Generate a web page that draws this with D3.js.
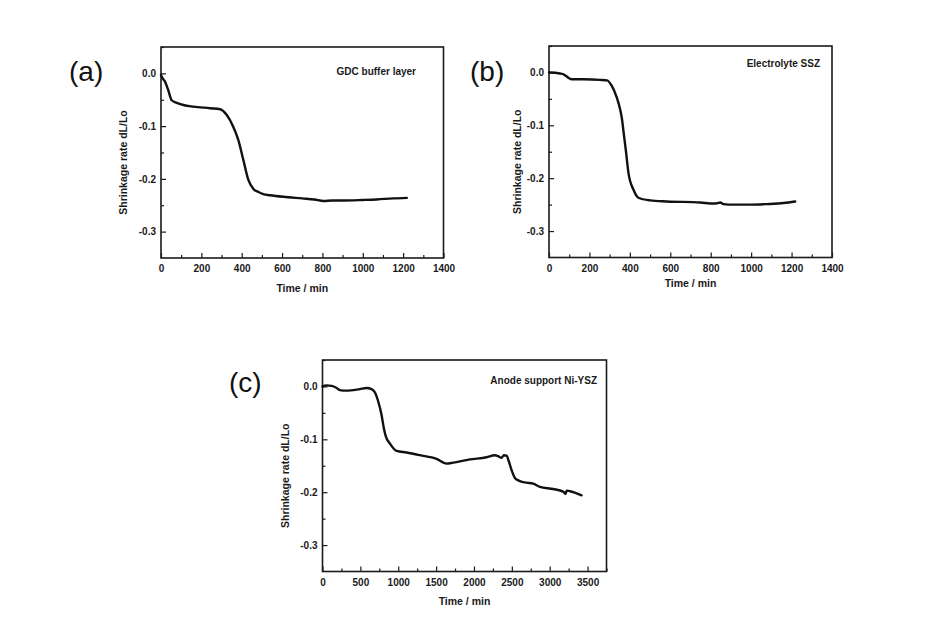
<!DOCTYPE html>
<html>
<head>
<meta charset="utf-8">
<script src="https://cdn.jsdelivr.net/npm/d3@7"></script>
<style>
  html, body { margin: 0; padding: 0; background: #fff; }
  svg { display: block; }
  text { font-family: "Liberation Sans", Arial, sans-serif; }
</style>
</head>
<body>
<svg id="chart" width="939" height="625"></svg>
<script>
// ---------- data ----------
const gdcTime   = [0, 3, 20, 36, 53, 78, 111, 160, 243, 293, 326, 358, 383, 408, 433, 458, 483, 507, 540, 607, 700, 760, 805, 850, 904, 1000, 1069, 1150, 1218];
const gdcShrink = [-0.003, -0.006, -0.016, -0.032, -0.051, -0.056, -0.060, -0.063, -0.066, -0.068, -0.079, -0.101, -0.126, -0.164, -0.202, -0.219, -0.225, -0.229, -0.231, -0.234, -0.237, -0.239, -0.242, -0.241, -0.241, -0.240, -0.239, -0.237, -0.236];

const sszTime   = [0, 8, 54, 74, 96, 112, 170, 253, 287, 310, 335, 352, 361, 368, 381, 393, 418, 442, 500, 583, 748, 814, 835, 847, 863, 913, 1000, 1078, 1161, 1218];
const sszShrink = [0.000, 0.000, -0.002, -0.004, -0.010, -0.013, -0.013, -0.014, -0.015, -0.025, -0.047, -0.070, -0.088, -0.110, -0.150, -0.190, -0.222, -0.237, -0.242, -0.244, -0.246, -0.248, -0.247, -0.246, -0.249, -0.250, -0.250, -0.249, -0.247, -0.244];

const anodeTime   = [0, 53, 119, 176, 229, 317, 493, 581, 647, 691, 735, 780, 810, 837, 890, 978, 1110, 1286, 1506, 1638, 1726, 1946, 2166, 2276, 2320, 2364, 2395, 2430, 2461, 2496, 2540, 2606, 2694, 2782, 2870, 3046, 3178, 3210, 3223, 3311, 3421];
const anodeShrink = [0.000, 0.002, 0.001, -0.002, -0.007, -0.008, -0.005, -0.003, -0.005, -0.011, -0.028, -0.054, -0.079, -0.095, -0.108, -0.122, -0.125, -0.130, -0.137, -0.146, -0.144, -0.138, -0.134, -0.130, -0.132, -0.135, -0.130, -0.131, -0.142, -0.158, -0.173, -0.179, -0.182, -0.184, -0.190, -0.194, -0.199, -0.203, -0.197, -0.200, -0.206];

const shortTimeTicks = [0, 200, 400, 600, 800, 1000, 1200, 1400];
const longTimeTicks  = [0, 500, 1000, 1500, 2000, 2500, 3000, 3500];
const shrinkTicks    = [0.0, -0.1, -0.2, -0.3];
const shrinkTickLabels = ["0.0", "-0.1", "-0.2", "-0.3"];
const panelLetters = ["(a)", "(b)", "(c)"];
const sampleNames  = ["GDC buffer layer", "Electrolyte SSZ", "Anode support Ni-YSZ"];
const xTitle = "Time / min";
const yTitle = "Shrinkage rate dL/Lo";

// ---------- layout ----------
const panels = [
  { time: gdcTime, value: gdcShrink, xMax: 1400, xTicks: shortTimeTicks, minorStep: 100,
    box: { l: 161, r: 443.5, t: 47, b: 258 }, letter: { x: 69, y: 81 },
    nameX: 416, nameY: 75, yTitleX: 123, xTitleY: 292 },
  { time: sszTime, value: sszShrink, xMax: 1400, xTicks: shortTimeTicks, minorStep: 100,
    box: { l: 549, r: 832, t: 46, b: 257.5 }, letter: { x: 470, y: 81 },
    nameX: 820, nameY: 67, yTitleX: 517, xTitleY: 287 },
  { time: anodeTime, value: anodeShrink, xMax: 3750, xTicks: longTimeTicks, minorStep: 250,
    box: { l: 322.5, r: 606.5, t: 360, b: 571.5 }, letter: { x: 229, y: 392 },
    nameX: 597, nameY: 384, yTitleX: 285, xTitleY: 605 }
];

const svg = d3.select("#chart");
const ink = "#1a1a1a";

panels.forEach((p, i) => {
  const B = p.box;
  const x = d3.scaleLinear().domain([0, p.xMax]).range([B.l, B.r]);
  const y = d3.scaleLinear().domain([0.05, -0.35]).range([B.t, B.b]);
  const g = svg.append("g");

  // minor ticks
  const xMinor = d3.range(0, p.xMax + 1e-9, p.minorStep).filter(v => !p.xTicks.includes(v));
  const yMinor = d3.range(0.05, -0.35, -0.05).map(v => +v.toFixed(2)).filter(v => !shrinkTicks.some(t => Math.abs(t - v) < 1e-6));

  g.append("g").attr("transform", `translate(0,${B.b})`)
    .call(d3.axisBottom(x).tickValues(xMinor).tickSize(-3).tickFormat(""))
    .call(a => a.select(".domain").remove());
  g.append("g").attr("transform", `translate(${B.l},0)`)
    .call(d3.axisLeft(y).tickValues(yMinor).tickSize(-3).tickFormat(""))
    .call(a => a.select(".domain").remove());

  // major ticks with labels
  g.append("g").attr("class", "xa").attr("transform", `translate(0,${B.b})`)
    .call(d3.axisBottom(x).tickValues(p.xTicks).tickSize(-5).tickPadding(7).tickFormat(d3.format("d")))
    .call(a => a.select(".domain").remove());
  g.append("g").attr("class", "ya").attr("transform", `translate(${B.l},0)`)
    .call(d3.axisLeft(y).tickValues(shrinkTicks).tickSize(-5).tickPadding(5).tickFormat((d, k) => shrinkTickLabels[k]))
    .call(a => a.select(".domain").remove());

  g.selectAll(".tick line").attr("stroke", ink).attr("stroke-width", 1.2);
  g.selectAll(".tick text").attr("fill", ink).attr("font-size", 10).attr("font-weight", "bold")
    .attr("font-family", '"Liberation Sans", Arial, sans-serif');

  // frame
  g.append("rect").attr("x", B.l).attr("y", B.t).attr("width", B.r - B.l).attr("height", B.b - B.t)
    .attr("fill", "none").attr("stroke", ink).attr("stroke-width", 1.6);

  // curve
  const pts = p.time.map((t, k) => [t, p.value[k]]);
  g.append("path").datum(pts)
    .attr("fill", "none").attr("stroke", "#111").attr("stroke-width", 2.4)
    .attr("stroke-linejoin", "round").attr("stroke-linecap", "round")
    .attr("d", d3.line().x(d => x(d[0])).y(d => y(d[1])).curve(d3.curveMonotoneX));

  // sample name
  g.append("text").attr("x", p.nameX).attr("y", p.nameY).attr("text-anchor", "end")
    .attr("font-size", 10).attr("font-weight", "bold").attr("fill", ink).text(sampleNames[i]);

  // axis titles
  g.append("text").attr("x", (B.l + B.r) / 2).attr("y", p.xTitleY).attr("text-anchor", "middle")
    .attr("font-size", 10.5).attr("font-weight", "bold").attr("fill", ink).text(xTitle);
  g.append("text").attr("transform", `translate(${p.yTitleX},${(B.t + B.b) / 2 + 10}) rotate(-90)`)
    .attr("text-anchor", "middle").attr("dy", "0.35em")
    .attr("font-size", 10.5).attr("font-weight", "bold").attr("fill", ink).text(yTitle);

  // panel letter
  svg.append("text").attr("x", p.letter.x).attr("y", p.letter.y)
    .attr("font-size", 28).attr("fill", "#111")
    .attr("font-family", '"Noto Sans CJK KR", "Noto Sans", sans-serif').text(panelLetters[i]);
});
</script>
</body>
</html>
